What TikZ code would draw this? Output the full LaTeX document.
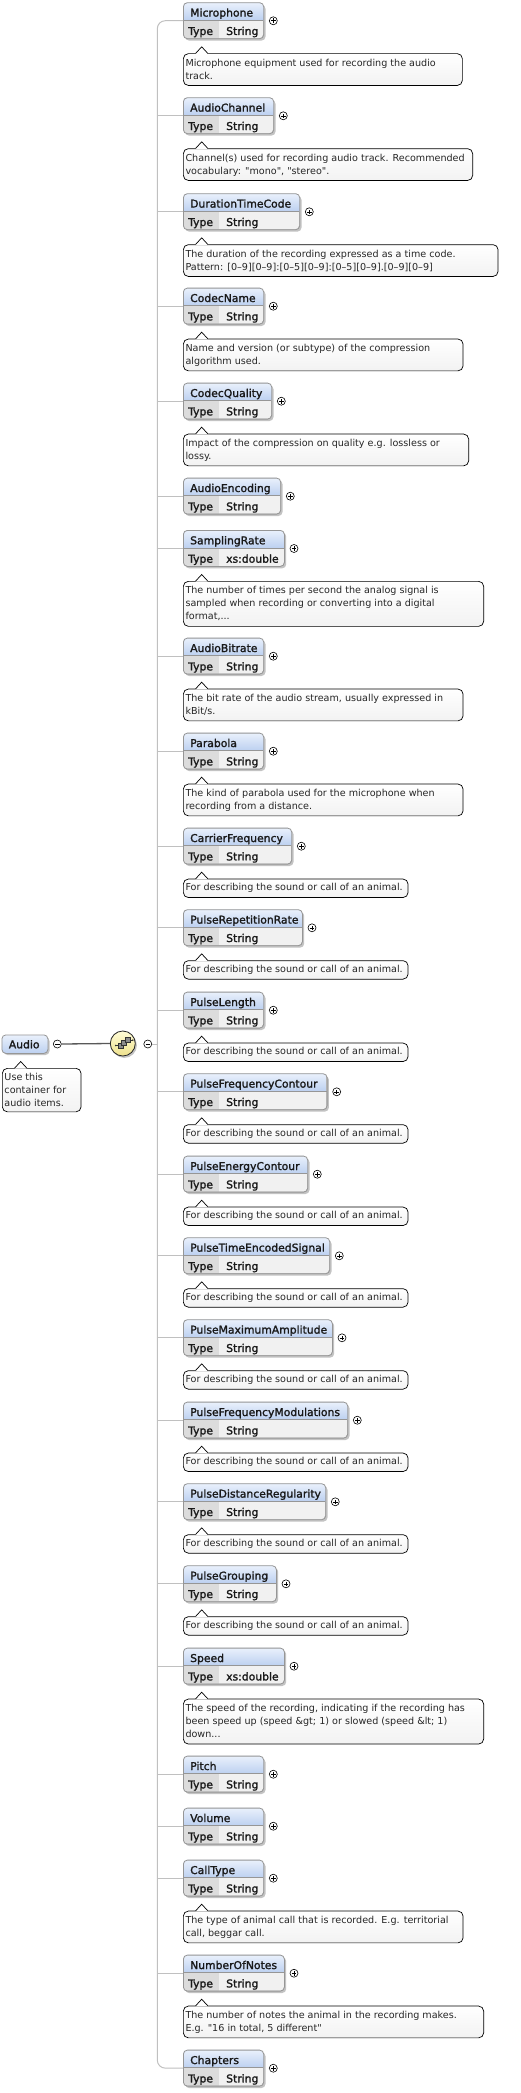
\documentclass[tikz,border=0pt]{standalone}
\usepackage{fontspec}
\setmainfont{DejaVu Sans}
\newfontfamily\cmtfont{DejaVu Sans}
\newfontfamily\hdfont[FakeBold=1.6]{DejaVu Sans}
\usetikzlibrary{calc}
\definecolor{hdtop}{RGB}{234,241,252}
\definecolor{hdbot}{RGB}{188,208,240}
\definecolor{typec}{RGB}{220,220,220}
\definecolor{valc}{RGB}{241,241,241}
\definecolor{bordc}{RGB}{150,150,150}
\definecolor{shadc}{RGB}{195,195,195}
\definecolor{treec}{RGB}{192,192,192}
\definecolor{seqtop}{RGB}{255,252,215}
\definecolor{seqbot}{RGB}{238,225,140}
\definecolor{iconc}{RGB}{140,140,140}
\tikzset{
 elbox/.style={rectangle, draw=bordc, line width=0.8, rounded corners=4, inner sep=0, minimum height=36},
 hdtext/.style={inner sep=0, font=\hdfont\fontsize{10.8}{12}\selectfont, text=black!90},
 cmtbox/.style={rectangle, draw=black, line width=0.7, rounded corners=5, inner sep=0, top color=white, bottom color=black!5},
 cmttext/.style={inner sep=0, align=left, font=\cmtfont\fontsize{9.6}{13}\selectfont, text=black!85},
 pm/.style={circle, draw=black, fill=white, inner sep=0, minimum size=8, line width=0.6},
 plusc/.style={pm, path picture={\draw[line width=0.6] ([xshift=-2.3]path picture bounding box.center) -- ([xshift=2.3]path picture bounding box.center) ([yshift=-2.3]path picture bounding box.center) -- ([yshift=2.3]path picture bounding box.center);}},
 minusc/.style={pm, path picture={\draw[line width=0.6] ([xshift=-2.3]path picture bounding box.center) -- ([xshift=2.3]path picture bounding box.center);}},
 treeline/.style={draw=treec, line width=1},
 darkline/.style={draw=black!65, line width=1.3},
}
\newcommand\xelem[5]{%
  \fill[shadc, rounded corners=4] (185,{#2+2.5}) rectangle ({#5+2.2},{#2+38.3});
  \begin{scope}
    \clip[rounded corners=4] (183,{#2}) rectangle ({#5},{#2+36});
    \shade[top color=hdtop, bottom color=hdbot] (183,{#2}) rectangle ({#5},{#2+18});
    \fill[typec] (183,{#2+18}) rectangle (219,{#2+36});
    \fill[valc] (219,{#2+18}) rectangle ({#5},{#2+36});
  \end{scope}
  \draw[bordc, line width=0.6] (183,{#2+18}) -- ({#5},{#2+18});
  \node[elbox, minimum width={(#5-183)*1pt}, anchor=north west] (#1) at (183,{#2}) {};
  \node[hdtext, anchor=base west] (#1-name) at (190,{#2+14.3}) {#3};
  \node[hdtext, anchor=base west] (#1-tl) at (188,{#2+32.7}) {Type};
  \node[hdtext, anchor=base west] (#1-tv) at (226,{#2+32.7}) {#4};
  \node[plusc] (#1-p) at ({#5+10},{#2+18.5}) {};
}
% #1 id, #2 left, #3 top, #4 right, #5 height, #6 text offset, #7 text
\newcommand\xcmt[7]{%
  \node[cmtbox, minimum width={(#4-#2)*1pt}, minimum height=#5, anchor=north west] (#1) at (#2,{#3}) {};
  \fill[white] ({#2+12.7},{#3+0.6}) -- ({#2+18.7},{#3-6.5}) -- ({#2+24.7},{#3+0.6}) -- cycle;
  \draw[black, line width=0.7] ({#2+12.7},{#3}) -- ({#2+18.7},{#3-6.5}) -- ({#2+24.7},{#3});
  \node[cmttext, anchor=north west] (#1-t) at ({#2+2.3},{#3+#6}) {\rule{0pt}{10pt}#7};
}
\newcommand\animal[3]{\xcmt{#1}{183}{#2}{407.7}{18.5}{1.8}{For describing the sound or call of an animal.}}
\begin{document}
\begin{tikzpicture}[x=1pt, y=-1pt]
\useasboundingbox[fill=white] (0,0) rectangle (521,2093);

% ---- root element ----
\fill[shadc, rounded corners=4] (3.5,1037) rectangle (49.5,1055);
\node[rectangle, rounded corners=4, draw=bordc, line width=0.8, top color=hdtop, bottom color=hdbot, minimum width=46, minimum height=18.5, anchor=north west, inner sep=0] (audio) at (1.5,1034.5) {};
\node[hdtext, anchor=base] (audio-name) at (24.2,1048.3) {Audio};
\node[minusc] (am) at (57.3,1044) {};
\xcmt{ac}{2}{1068}{80.7}{43.5}{2}{Use this\\container for\\audio items.}

% ---- sequence compositor ----
\fill[shadc] (124.3,1045.3) circle (12.6);
\node[circle, draw=black!85, line width=0.8, top color=seqtop, bottom color=seqbot, minimum size=25, inner sep=0] (seq) at (122.8,1043.5) {};
\draw[darkline] (am.east) -- (seq.west);
\draw[black!80, line width=0.8] ($(seq.center)+(-7,2)$) -- ($(seq.center)+(-4,2)$);
\fill[black!80] ($(seq.center)+(-7,2)$) circle (0.9);
\draw[black!80, line width=0.8] ($(seq.center)+(7,-3.4)$) -- ($(seq.center)+(10,-3.4)$);
\fill[black!80] ($(seq.center)+(10,-3.4)$) circle (0.9);
\filldraw[fill=iconc, draw=black!80, line width=0.6] ($(seq.center)+(-4.8,-0.5)$) rectangle ($(seq.center)+(0.2,4.5)$);
\filldraw[fill=iconc, draw=black!80, line width=0.6] ($(seq.center)+(-1.4,-3.3)$) rectangle ($(seq.center)+(3.6,1.7)$);
\filldraw[fill=iconc, draw=black!80, line width=0.6] ($(seq.center)+(2,-6)$) rectangle ($(seq.center)+(7,-1)$);
\node[minusc] (sm) at (147.8,1044) {};
\coordinate (trunk) at (157.3,1044);
\draw[treeline] (sm.east) -- (trunk);

% ---- children ----
\xelem{e1}{2.3}{Microphone}{String}{263.3}
\xcmt{c1}{183}{53.3}{462}{31.8}{2.5}{Microphone equipment used for recording the audio\\track.}
\xelem{e2}{97.3}{AudioChannel}{String}{273.3}
\xcmt{c2}{183}{148.3}{472.3}{31.8}{2.5}{Channel(s) used for recording audio track. Recommended\\vocabulary: "mono", "stereo".}
\xelem{e3}{193.3}{DurationTimeCode}{String}{299.3}
\xcmt{c3}{183}{244.3}{497.7}{31.8}{2.5}{The duration of the recording expressed as a time code.\\Pattern: [0–9][0–9]:[0–5][0–9]:[0–5][0–9].[0–9][0–9]}
\xelem{e4}{287.7}{CodecName}{String}{263.3}
\xcmt{c4}{183}{338.7}{462.7}{31.8}{2.5}{Name and version (or subtype) of the compression\\algorithm used.}
\xelem{e5}{382.7}{CodecQuality}{String}{271.3}
\xcmt{c5}{183}{433.7}{468.3}{31.8}{2.5}{Impact of the compression on quality e.g. lossless or\\lossy.}
\xelem{e6}{477.7}{AudioEncoding}{String}{280.3}
\xelem{e7}{530}{SamplingRate}{xs:double}{284}
\xcmt{c7}{183}{581}{483.3}{45}{2.5}{The number of times per second the analog signal is\\sampled when recording or converting into a digital\\format,...}
\xelem{e8}{637.7}{AudioBitrate}{String}{263.3}
\xcmt{c8}{183}{688.7}{462.7}{31.8}{2.5}{The bit rate of the audio stream, usually expressed in\\kBit/s.}
\xelem{e9}{732.7}{Parabola}{String}{263.3}
\xcmt{c9}{183}{783.7}{462.7}{31.8}{2.5}{The kind of parabola used for the microphone when\\recording from a distance.}
\xelem{e10}{827.7}{CarrierFrequency}{String}{291.3}
\animal{c10}{878.7}{}
\xelem{e11}{909.3}{PulseRepetitionRate}{String}{302}
\animal{c11}{960.3}{}
\xelem{e12}{991.7}{PulseLength}{String}{263.3}
\animal{c12}{1042.7}{}
\xelem{e13}{1073.3}{PulseFrequencyContour}{String}{326.7}
\animal{c13}{1124.3}{}
\xelem{e14}{1155.7}{PulseEnergyContour}{String}{307.3}
\animal{c14}{1206.7}{}
\xelem{e15}{1237.3}{PulseTimeEncodedSignal}{String}{329.3}
\animal{c15}{1288.3}{}
\xelem{e16}{1319.3}{PulseMaximumAmplitude}{String}{332}
\animal{c16}{1370.3}{}
\xelem{e17}{1401.7}{PulseFrequencyModulations}{String}{347.3}
\animal{c17}{1452.7}{}
\xelem{e18}{1483.3}{PulseDistanceRegularity}{String}{325.3}
\animal{c18}{1534.3}{}
\xelem{e19}{1565.3}{PulseGrouping}{String}{276}
\animal{c19}{1616.3}{}
\xelem{e20}{1647.7}{Speed}{xs:double}{284}
\xcmt{c20}{183}{1698.7}{483.3}{45}{2.5}{The speed of the recording, indicating if the recording has\\been speed up (speed \&gt; 1) or slowed (speed \&lt; 1)\\down...}
\xelem{e21}{1755.7}{Pitch}{String}{263.3}
\xelem{e22}{1807.7}{Volume}{String}{263.3}
\xelem{e23}{1859.7}{CallType}{String}{263.3}
\xcmt{c23}{183}{1910.7}{462.7}{31.8}{2.5}{The type of animal call that is recorded. E.g. territorial\\call, beggar call.}
\xelem{e24}{1954.7}{NumberOfNotes}{String}{284}
\xcmt{c24}{183}{2005.7}{483.3}{31.8}{2.5}{The number of notes the animal in the recording makes.\\E.g. "16 in total, 5 different"}
\xelem{e25}{2049.7}{Chapters}{String}{263.3}

% ---- tree connectors ----
\draw[treeline, rounded corners=8] (e1.west) -- (e1.west -| trunk) -- (e25.west -| trunk) -- (e25.west);
\foreach \i in {2,...,24} { \draw[treeline] (e\i.west -| trunk) -- (e\i.west); }
\end{tikzpicture}
\end{document}
